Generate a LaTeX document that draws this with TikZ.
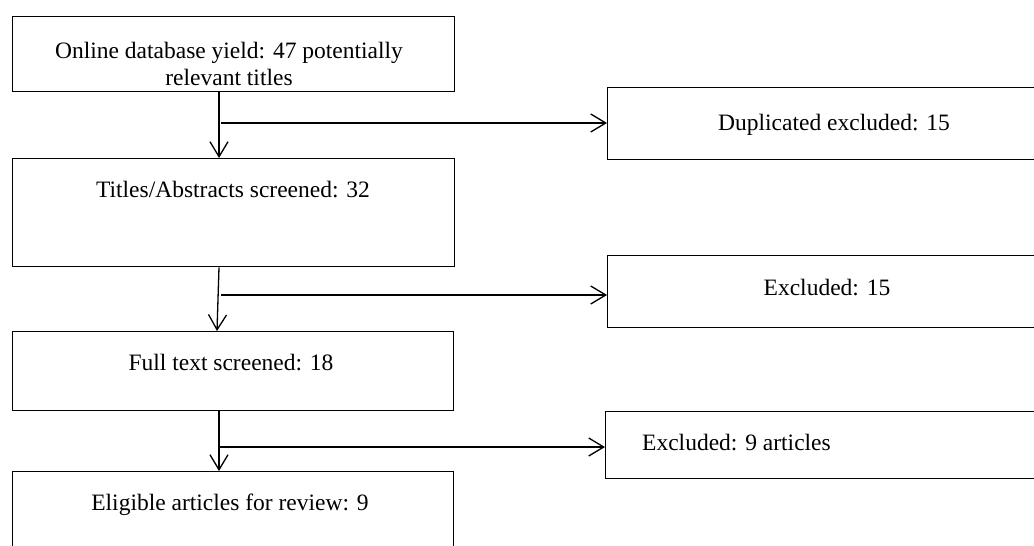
\documentclass[tikz,border=0pt]{standalone}
\usepackage{fontspec}
\setmainfont{Liberation Serif}
\usetikzlibrary{arrows.meta}
\begin{document}
\begin{tikzpicture}[x=1pt,y=-1pt,
  box/.style={draw=black,line width=1.3pt,rectangle,inner sep=0pt,anchor=north west},
  txt/.style={inner sep=0pt,anchor=base,font=\fontsize{23.5}{28}\selectfont},
  arr/.style={draw=black,line width=1.3pt,-{Straight Barb[length=15pt,width=18pt,line width=1.3pt]}}]
\clip (0,0) rectangle (1034,546);
\fill[white] (0,0) rectangle (1034,546);
% boxes
\node[box,minimum width=442pt,minimum height=75pt] (b1) at (12,16) {};
\node[box,minimum width=440pt,minimum height=72pt] (b2) at (607,87) {};
\node[box,minimum width=442pt,minimum height=108pt] (b3) at (12,158) {};
\node[box,minimum width=440pt,minimum height=72pt] (b4) at (607,255) {};
\node[box,minimum width=441pt,minimum height=79pt] (b5) at (12,331) {};
\node[box,minimum width=440pt,minimum height=67pt] (b6) at (605,411) {};
\node[box,minimum width=441pt,minimum height=95pt] (b7) at (12,471) {};
% texts
\node[txt] (t1a) at (229,58) {Online database yield: 47 potentially};
\node[txt] (t1b) at (229,85) {relevant titles};
\node[txt] (t2) at (834,130) {Duplicated excluded: 15};
\node[txt] (t3) at (233,197) {Titles/Abstracts screened: 32};
\node[txt] (t4) at (827,295) {Excluded: 15};
\node[txt] (t5) at (231,370) {Full text screened: 18};
\node[txt,anchor=base west] (t6) at (642,450) {Excluded: 9 articles};
\node[txt] (t7) at (230,510) {Eligible articles for review: 9};
% junctions
\coordinate (j1) at (219,123);
\coordinate (j2) at (219,295);
\coordinate (j3) at (219,447);
% connectors
\draw[arr] (j1 |- b1.south) -- (j1 |- b3.north);
\draw[arr] ([xshift=2pt]j1) -- (j1 -| b2.west);
\draw[arr] (j2 |- b3.south) -- ([xshift=-2pt]j2 |- b5.north);
\draw[arr] ([xshift=2pt]j2) -- (j2 -| b4.west);
\draw[arr] (j3 |- b5.south) -- (j3 |- b7.north);
\draw[arr] (j3) -- (j3 -| b6.west);
\end{tikzpicture}
\end{document}
